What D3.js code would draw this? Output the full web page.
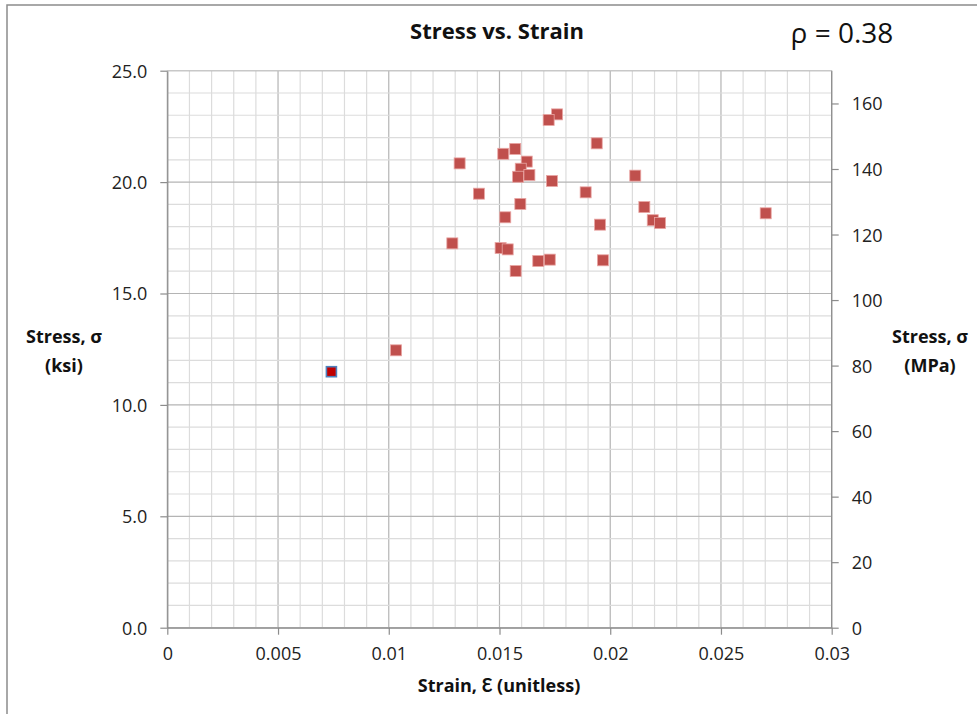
<!DOCTYPE html>
<html>
<head>
<meta charset="utf-8">
<script src="https://cdn.jsdelivr.net/npm/d3@7"></script>
<style>
  html, body { margin: 0; padding: 0; background: #fff; }
  svg { display: block; font-family: "Open Sans", Lato, sans-serif; }
</style>
</head>
<body>
<svg id="chart" width="977" height="714"></svg>
<script>
// Strain (unitless) and stress (ksi) for each specimen
const strain = [0.01760, 0.01722, 0.01939, 0.01571, 0.01517, 0.01320, 0.01623, 0.01596,
                0.01635, 0.01584, 0.01737, 0.02113, 0.01407, 0.01889, 0.01594, 0.02154,
                0.01526, 0.02192, 0.02225, 0.01954, 0.01287, 0.01505, 0.01537, 0.01675,
                0.01727, 0.01967, 0.01573, 0.02702, 0.01033];
const stress = [23.04, 22.79, 21.74, 21.49, 21.27, 20.84, 20.92, 20.60,
                20.32, 20.24, 20.05, 20.29, 19.48, 19.54, 19.02, 18.88,
                18.42, 18.29, 18.16, 18.09, 17.25, 17.04, 16.98, 16.46,
                16.52, 16.49, 16.01, 18.60, 12.45];
// Highlighted specimen
const highlightStrain = [0.00741];
const highlightStress = [11.49];

const xTicks = [0, 0.005, 0.01, 0.015, 0.02, 0.025, 0.03];
const xTickLabels = ["0", "0.005", "0.01", "0.015", "0.02", "0.025", "0.03"];
const yTicks = [0, 5, 10, 15, 20, 25];
const yTickLabels = ["0.0", "5.0", "10.0", "15.0", "20.0", "25.0"];
const y2Ticks = [0, 20, 40, 60, 80, 100, 120, 140, 160];
const rhoText = "ρ = 0.38";

const FONT = "'Open Sans', Lato, sans-serif";
const svg = d3.select("#chart");
const L = 167.3, R = 831.7, T = 70.7, B = 627.7;

const x = d3.scaleLinear().domain([0, 0.03]).range([L, R]);
const y = d3.scaleLinear().domain([0, 25]).range([B, T]);
const y2 = d3.scaleLinear().domain([0, 170]).range([B, T]);

// outer frame
svg.append("rect").attr("x", 7).attr("y", 5).attr("width", 1000).attr("height", 1000)
  .attr("fill", "none").attr("stroke", "#8c8c8c").attr("stroke-width", 1.5);

// gridlines
const grid = svg.append("g");
const minorX = d3.range(0, 31).map(i => i * 0.001);
const minorY = d3.range(0, 26);
grid.selectAll(".vx").data(minorX).join("line")
  .attr("x1", d => x(d)).attr("x2", d => x(d)).attr("y1", T).attr("y2", B)
  .attr("stroke", (d, i) => i % 5 === 0 ? "#b4b4b4" : "#dcdcdc").attr("stroke-width", 1.2);
grid.selectAll(".hy").data(minorY).join("line")
  .attr("y1", d => y(d)).attr("y2", d => y(d)).attr("x1", L).attr("x2", R)
  .attr("stroke", (d, i) => i % 5 === 0 ? "#b4b4b4" : "#dcdcdc").attr("stroke-width", 1.2);

// axes
const axisColor = "#8c8c8c";
const styleAxis = g => {
  g.select(".domain").attr("stroke", axisColor).attr("stroke-width", 1.2);
  g.selectAll(".tick line").attr("stroke", axisColor).attr("stroke-width", 1.2);
  g.selectAll(".tick text").attr("fill", "#222").attr("font-size", 18)
    .attr("font-family", FONT);
};

const xAxis = svg.append("g").attr("transform", `translate(0,${B})`)
  .call(d3.axisBottom(x).tickValues(xTicks).tickFormat((d, i) => xTickLabels[i])
    .tickSizeInner(7).tickSizeOuter(0).tickPadding(13));
styleAxis(xAxis);

const yAxis = svg.append("g").attr("transform", `translate(${L},0)`)
  .call(d3.axisLeft(y).tickValues(yTicks).tickFormat((d, i) => yTickLabels[i])
    .tickSizeInner(7).tickSizeOuter(0).tickPadding(13));
styleAxis(yAxis);
yAxis.selectAll(".tick text").attr("dy", "0.36em");

const y2Axis = svg.append("g").attr("transform", `translate(${R},0)`)
  .call(d3.axisRight(y2).tickValues(y2Ticks).tickSizeInner(7).tickSizeOuter(0).tickPadding(13));
styleAxis(y2Axis);
y2Axis.selectAll(".tick text").attr("dy", "0.36em");
// right axis line spans the full plot height
y2Axis.select(".domain").attr("d", `M0,${T}V${B}`);

// top border of plot area
svg.append("line").attr("x1", L).attr("x2", R).attr("y1", T).attr("y2", T)
  .attr("stroke", "#c8c8c8").attr("stroke-width", 1.2);

// data markers
const pts = strain.map((s, i) => ({ s, v: stress[i] }));
const size = 11;
svg.append("g").selectAll("rect").data(pts).join("rect")
  .attr("x", d => x(d.s) - size / 2).attr("y", d => y(d.v) - size / 2)
  .attr("width", size).attr("height", size)
  .attr("fill", "#c0504d").attr("stroke", "#e9a6a4").attr("stroke-width", 0.8);

const hi = highlightStrain.map((s, i) => ({ s, v: highlightStress[i] }));
svg.append("g").selectAll("rect").data(hi).join("rect")
  .attr("x", d => x(d.s) - 5).attr("y", d => y(d.v) - 5)
  .attr("width", 10).attr("height", 10)
  .attr("fill", "#c00000").attr("stroke", "#4f81bd").attr("stroke-width", 1.6);

// titles
svg.append("text").attr("x", 497).attr("y", 39).attr("text-anchor", "middle")
  .attr("font-weight", "bold").attr("font-size", 22).attr("fill", "#111")
  .text("Stress vs. Strain");
svg.append("text").attr("x", 842).attr("y", 43).attr("text-anchor", "middle")
  .attr("font-size", 28).attr("fill", "#111").text(rhoText);
svg.append("text").attr("x", 499).attr("y", 692).attr("text-anchor", "middle")
  .attr("font-weight", "bold").attr("font-size", 18).attr("fill", "#111")
  .text("Strain, Ɛ (unitless)");

const leftLab = svg.append("text").attr("text-anchor", "middle")
  .attr("font-weight", "bold").attr("font-size", 18).attr("fill", "#111");
leftLab.append("tspan").attr("x", 64).attr("y", 343).text("Stress, σ");
leftLab.append("tspan").attr("x", 64).attr("y", 372).text("(ksi)");

const rightLab = svg.append("text").attr("text-anchor", "middle")
  .attr("font-weight", "bold").attr("font-size", 18).attr("fill", "#111");
rightLab.append("tspan").attr("x", 930).attr("y", 343).text("Stress, σ");
rightLab.append("tspan").attr("x", 930).attr("y", 372).text("(MPa)");
</script>
</body>
</html>
